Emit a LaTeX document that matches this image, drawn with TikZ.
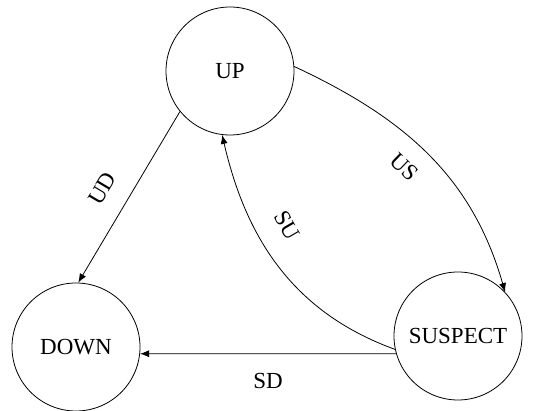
\documentclass[tikz,border=0pt]{standalone}
\usepackage{fontspec}
\setmainfont{Liberation Serif}
\usetikzlibrary{arrows.meta,positioning}
\tikzset{
    %Define standard arrow tip
    >={Latex[length=9pt,width=7pt]},
    %Define style for states
    statenode/.style={
             circle,
             draw=black, line width=0.8pt,
             minimum size=128pt, inner sep=0pt,
             font=\fontsize{23}{27}\selectfont},
    % Define arrow style
    statearrow/.style={
            ->,
            line width=0.8pt,
            font=\fontsize{23}{27}\selectfont}
}

\begin{document}
\begin{tikzpicture}[x=1pt, y=1pt, on grid]
 \useasboundingbox (0,0) rectangle (533,-411);
 \node[statenode] (up) at (230,-71) {UP};
 \node[statenode, below left=276pt and 154pt of up] (down) {DOWN};
 \node[statenode, below right=265pt and 228pt of up] (suspect) {SUSPECT};
 \path (up.219) edge[statearrow] node[sloped, above=16pt, pos=0.53] {UD} (down.88)
       (up.4) edge[statearrow, out=-25, in=106] node[sloped, below=14pt, pos=0.47] {US} (suspect.43)
       (suspect.192) edge[statearrow, out=160, in=283] node[sloped, above=18pt, pos=0.62] {SU} (up.263)
       (suspect.196) edge[statearrow] node[below=16pt] {SD} (down.354);
\end{tikzpicture}
\end{document}
